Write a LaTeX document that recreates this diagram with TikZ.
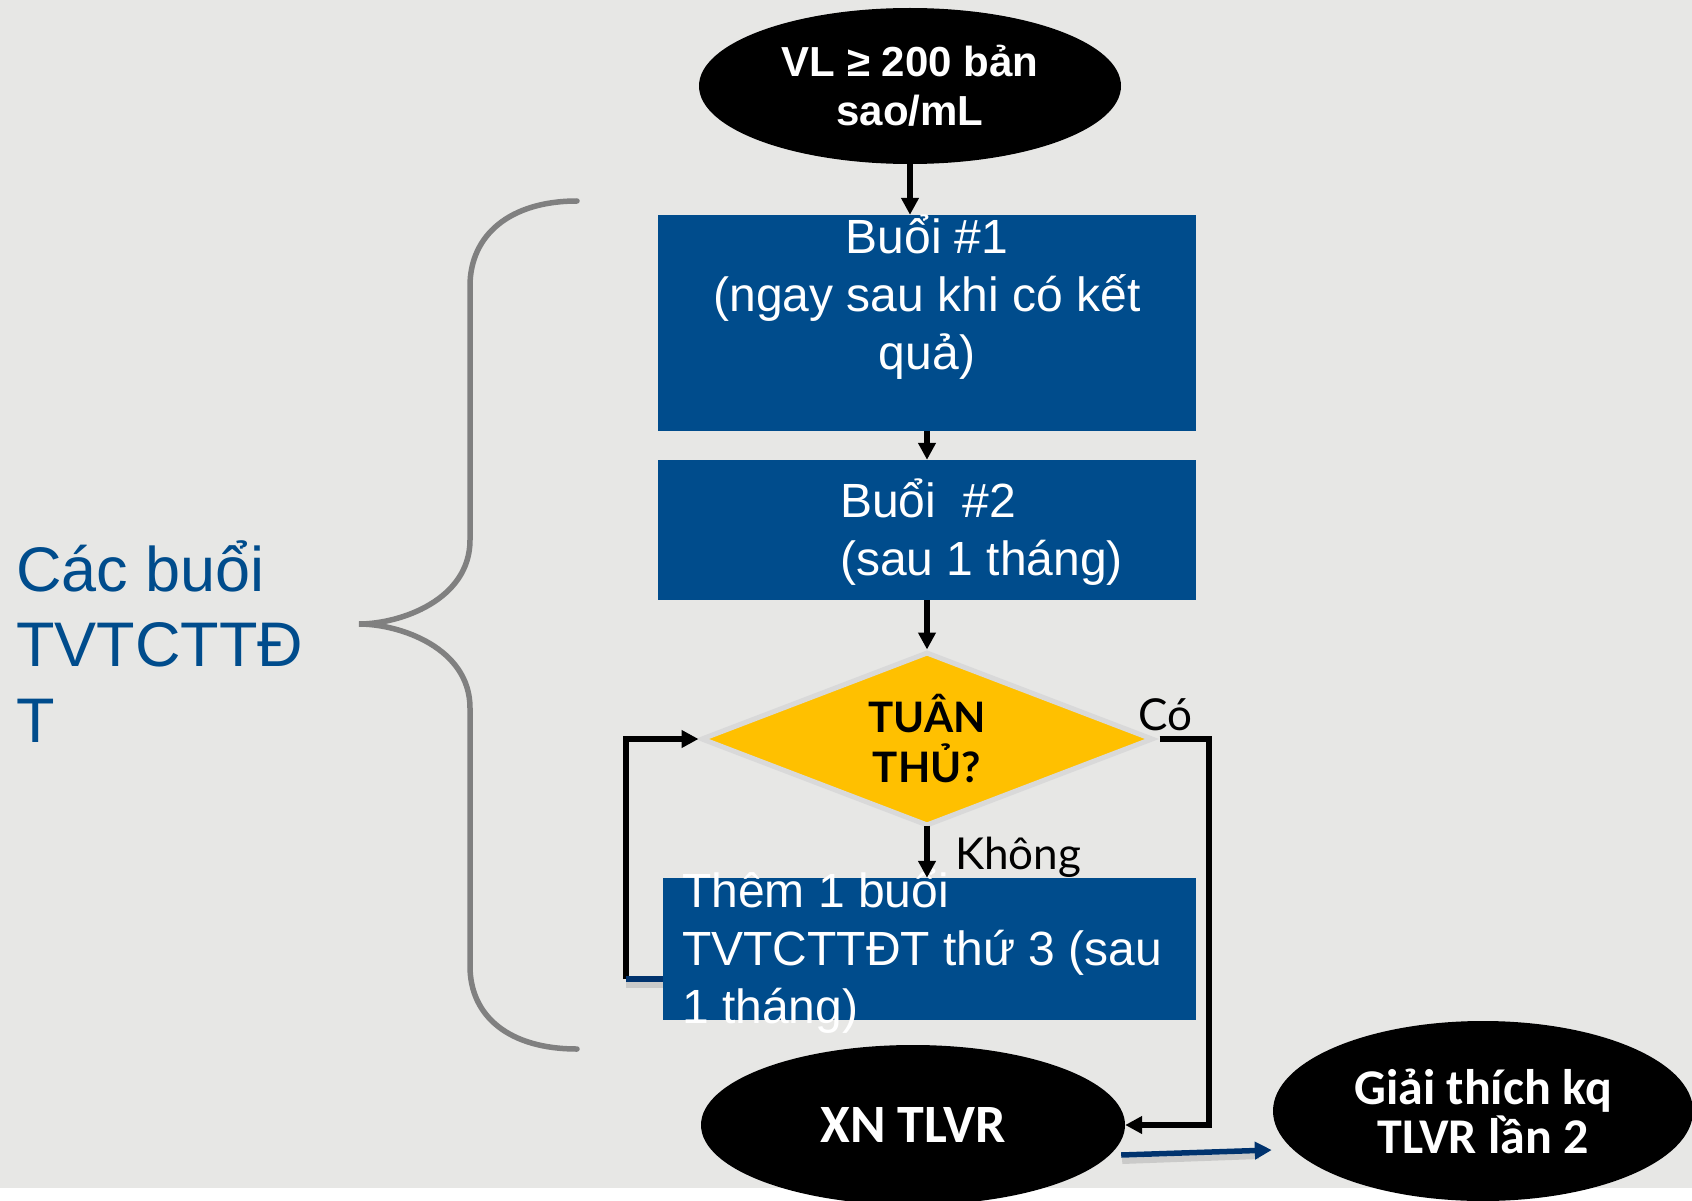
\documentclass[tikz,border=0pt]{standalone}
\usepackage{fontspec}
\setmainfont{Liberation Sans}
\newfontfamily\lato{Lato}
\newfontfamily\carl{Carlito}
\usetikzlibrary{shapes.geometric,arrows.meta,calc}
\definecolor{bgc}{RGB}{231,231,229}
\definecolor{boxblue}{RGB}{0,76,140}
\definecolor{lblue}{RGB}{0,76,140}
\definecolor{ylw}{RGB}{255,192,0}
\definecolor{dgray}{RGB}{217,217,217}
\definecolor{bracegray}{RGB}{128,128,128}
\definecolor{navy}{RGB}{0,51,110}
\begin{document}
\begin{tikzpicture}[x=1pt,y=-1pt,
  conn/.style={line width=5.5pt,-{Triangle[length=17pt,width=17pt]}},
  navyconn/.style={line width=5.5pt,draw=navy,-{Triangle[length=17pt,width=17pt]}},
  shade/.style={line width=6pt,draw=black,opacity=0.12},
  ell/.style={ellipse,fill=black,text=white,inner sep=0pt,align=center},
  bluebox/.style={rectangle,fill=boxblue,inner sep=0pt},
  boxtxt/.style={text=white,inner sep=0pt,font=\fontsize{48}{58}\selectfont},
  decision/.style={diamond,aspect=2.6,fill=ylw,draw=dgray,line width=5pt,inner sep=0pt,
    minimum width=452pt,minimum height=174pt,align=center,
    font=\lato\bfseries\fontsize{42}{50}\selectfont},
  lbl/.style={inner sep=0pt,font=\lato\fontsize{44}{50}\selectfont}]
\useasboundingbox (0,0) rectangle (1692,1201);
\fill[bgc] (0,0) rectangle (1692,1188);
\fill[white] (0,1188) rectangle (1692,1201);

% brace
\draw[bracegray,line width=5.5pt,line cap=round]
  (577,201) .. controls (510,201) and (470,235) .. (470,286) -- (470,540)
  .. controls (470,600) and (400,624) .. (359,624)
  .. controls (400,624) and (470,648) .. (470,708) -- (470,966)
  .. controls (470,1017) and (510,1049) .. (577,1049);
\node[anchor=base west,inner sep=0pt,align=left,text=lblue,
  font=\fontsize{63}{75.5}\selectfont] (side) at (16,742) {Các buổi\\TVTCTTĐ\\T};

% nodes
\node[ell,minimum width=422pt,minimum height=156pt,
  font=\bfseries\fontsize{42}{49}\selectfont] (vl) at (910,86) {VL ≥ 200 bản\\sao/mL};
\node[bluebox,minimum width=538pt,minimum height=216pt] (b1) at (927,323) {};
\node[boxtxt,anchor=base,align=center] (t1) at (927,369) {Buổi \#1\\(ngay sau khi có kết\\quả)};
\node[bluebox,minimum width=538pt,minimum height=140pt] (b2) at (927,530) {};
\node[boxtxt,anchor=base west,align=left] (t2) at (840,575) {Buổi\ \ \#2\\(sau 1 tháng)};
\node[decision] (dia) at (927,739) {TUÂN\\THỦ?};
\node[bluebox,minimum width=533pt,minimum height=142pt] (b3) at (929.5,949) {};
\node[boxtxt,anchor=base west,align=left] (t3) at (682,1023) {Thêm 1 buổi\\TVTCTTĐT thứ 3 (sau\\1 tháng)};
\node[ell,minimum width=424pt,minimum height=160pt,
  font=\carl\bfseries\fontsize{54}{54}\selectfont] (xn) at (913,1125) {XN TLVR};
\node[ell,minimum width=420pt,minimum height=180pt,
  font=\carl\bfseries\fontsize{50}{49}\selectfont] (gi) at (1483,1111) {Giải thích kq\\TLVR lần 2};

% connectors
\draw[conn] (vl.south) -- (vl.south |- b1.north);
\draw[conn] (b1.south) -- (b2.north);
\draw[conn] (b2.south) -- (dia.north);
\draw[conn] ([yshift=3pt]dia.south) -- (dia.south |- b3.north);
\node[lbl,anchor=base west] (khong) at (955,869) {Không};
\draw[conn,line cap=butt] ([xshift=4pt]dia.east) -| ($(xn.east)+(84,0)$) -- (xn.east);
\node[lbl,anchor=base] (co) at (1165,730) {Có};
\coordinate (lb) at (626,979);
\draw[conn] (lb) |- (dia.west);
\draw[shade] ($(b3.west |- lb)+(0,6)$) -- ($(lb)+(0,6)$);
\draw[navy,line width=5.5pt] (b3.west |- lb) -- (lb);
\draw[shade] ($(xn.east)+(-3,36)$) -- ($(gi.west)+(-14,45)$);
\draw[navyconn] ($(xn.east)+(-4,30)$) -- ($(gi.west)+(-1,39)$);
\end{tikzpicture}
\end{document}
